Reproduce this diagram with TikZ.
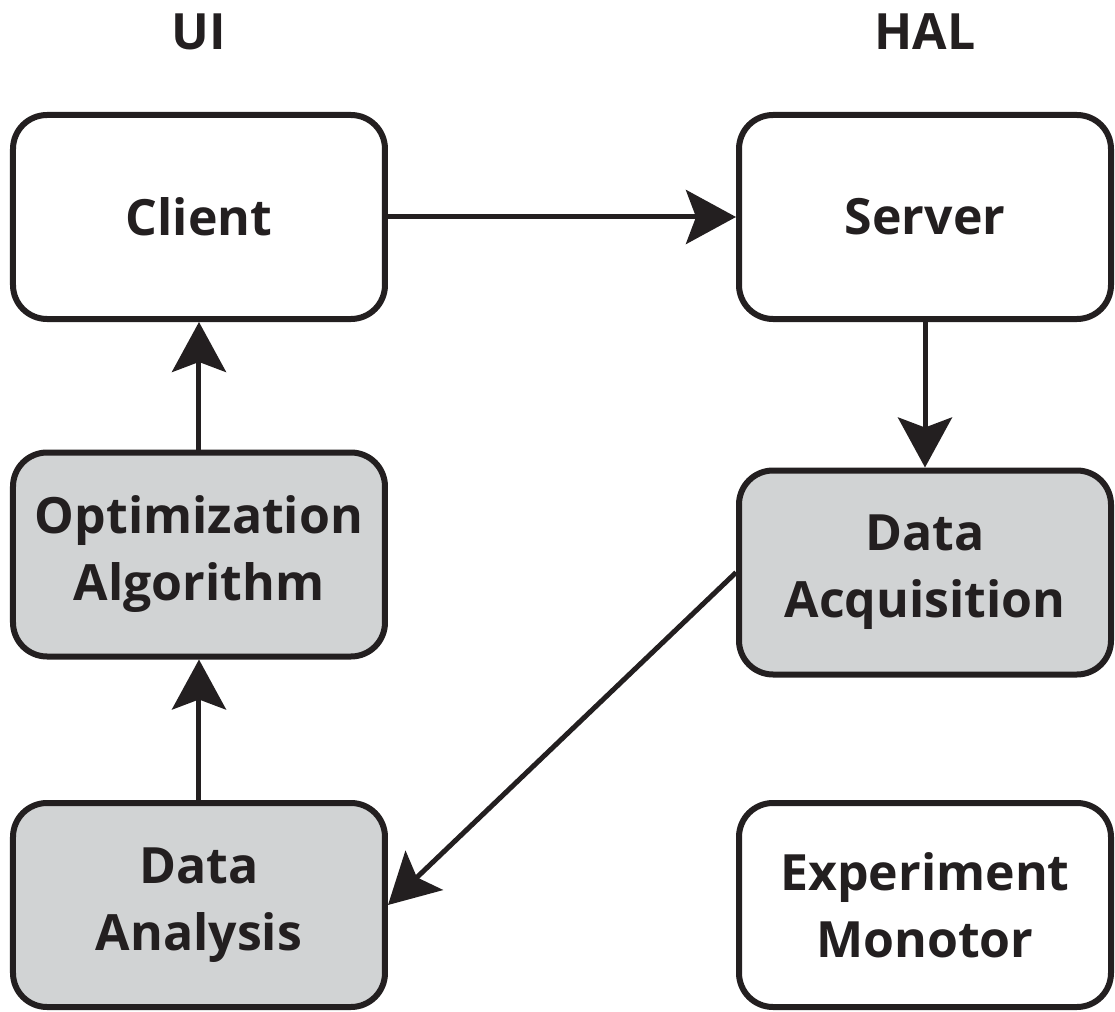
\documentclass[tikz,border=0pt]{standalone}
\usepackage{fontspec}
\setmainfont{Open Sans}
\usepackage{tikz}
\usetikzlibrary{positioning}
\usetikzlibrary{arrows.meta}
\definecolor{boxline}{HTML}{231F20}
\definecolor{boxgrey}{HTML}{D1D3D4}

\begin{document}
\begin{tikzpicture}[
	every node/.style={font=\fontsize{25}{33.5}\selectfont\bfseries, text=boxline},
	block/.style={draw=boxline, line width=3pt, rounded corners=17pt, minimum width=186pt, minimum height=102pt, align=center, fill=white},
	greyblock/.style={block, fill=boxgrey},
	heading/.style={inner sep=0pt},
	flow/.style={draw=boxline, line width=2.5pt, -{Stealth[length=25pt, width=27pt, inset=5pt]}}
	]
	\useasboundingbox (-99.5pt,-397.5pt) rectangle (458pt,108.5pt);
	
	\node [block] at (0,0) (1Client) {Client}; \node [block, right=174pt of 1Client] (1Server) {Server};
	\node [heading, above=31pt of 1Client] (0UI) {UI}; \node [heading, above=31pt of 1Server] (0HAL) {HAL};
	
	\node [greyblock, below=63.75pt of 1Client] (2Algorithm) {Optimization\\Algorithm}; \node [greyblock, below=72.75pt of 1Server] (2Acquisition) {Data\\Acquisition};
	\node [greyblock, below=70.25pt of 2Algorithm] (3Analysis) {Data\\Analysis}; \node [block, right=174pt of 3Analysis] (3Monitor) {Experiment\\Monotor};
	
	\draw [flow] (1Client) -- (1Server); \draw [flow] (1Server) -- (2Acquisition);
	\draw [flow] (2Acquisition.west) -- (3Analysis.east); \draw [flow] (3Analysis) -- (2Algorithm); \draw [flow] (2Algorithm) -- (1Client);
	
\end{tikzpicture}
\end{document}
